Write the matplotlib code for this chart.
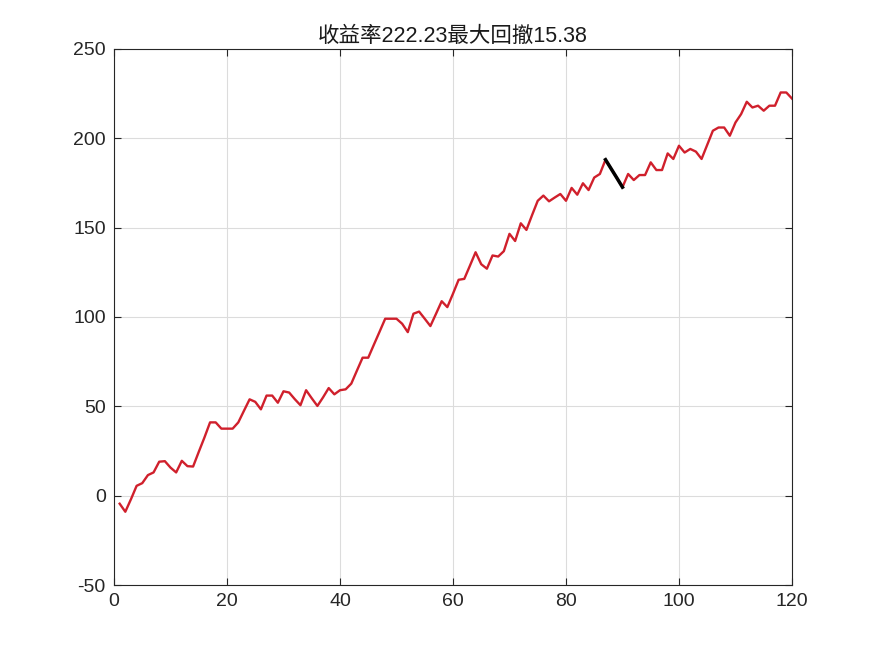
import matplotlib

matplotlib.use('Agg')
import matplotlib.pyplot as plt

# cumulative return curve, one point per period (1..120)
period = list(range(1, 121))
equity = [
    -4.5, -9.0, -2.0, 5.5, 7.0, 11.5, 13.0, 19.0, 19.3, 15.7,
    13.0, 19.5, 16.5, 16.3, 24.5, 32.5, 41.0, 41.0, 37.5, 37.5,
    37.5, 41.0, 47.5, 53.9, 52.5, 48.3, 56.0, 56.0, 52.0, 58.4,
    57.7, 54.0, 50.6, 59.0, 54.5, 50.2, 55.0, 60.2, 56.7, 59.0,
    59.5, 62.7, 70.0, 77.2, 77.2, 84.5, 91.7, 99.0, 99.0, 99.0,
    96.2, 91.5, 101.8, 103.0, 99.0, 94.9, 101.8, 108.8, 105.5, 113.0,
    120.8, 121.3, 128.7, 136.2, 129.5, 127.0, 134.4, 133.8, 136.8, 146.5,
    142.5, 152.4, 148.7, 157.0, 165.0, 167.9, 164.7, 166.8, 168.8, 165.0,
    172.2, 168.4, 174.8, 171.0, 178.0, 180.0, 188.0, 182.9, 177.8, 172.6,
    180.0, 176.6, 179.4, 179.4, 186.5, 182.2, 182.2, 191.5, 188.4, 195.8,
    192.0, 194.0, 192.5, 188.4, 196.3, 204.2, 206.0, 206.0, 201.4, 208.8,
    213.5, 220.4, 217.2, 218.2, 215.4, 218.2, 218.2, 225.6, 225.6, 222.2,
]
# max drawdown segment (period indices)
dd_start, dd_end = 87, 90
title = '收益率222.23最大回撤15.38'

plt.rcParams['font.family'] = ['Liberation Sans', 'Noto Sans CJK SC', 'DejaVu Sans']
plt.rcParams['axes.unicode_minus'] = False

fig = plt.figure(figsize=(8.75, 6.56), dpi=100)
ax = fig.add_axes([0.1303, 0.1082, 0.7748, 0.8173])

ax.plot(period, equity, color='#d0202c', linewidth=1.7)
i0 = period.index(dd_start)
i1 = period.index(dd_end)
ax.plot(period[i0:i1 + 1], equity[i0:i1 + 1], color='black', linewidth=2.5)

ax.set_xlim(0, 120)
ax.set_ylim(-50, 250)
ax.set_xticks(range(0, 121, 20))
ax.set_yticks(range(-50, 251, 50))
ax.grid(True, color='#dcdcdc', linewidth=0.8)
ax.set_axisbelow(True)
ax.tick_params(direction='in', length=5, labelsize=14, colors='#262626',
               top=True, right=True, pad=6)
for side in ax.spines.values():
    side.set_color('#262626')
    side.set_linewidth(0.8)
ax.set_title(title, fontsize=15.5, color='#1a1a1a', pad=5)

fig.savefig('out.png', dpi=100, facecolor='white')
